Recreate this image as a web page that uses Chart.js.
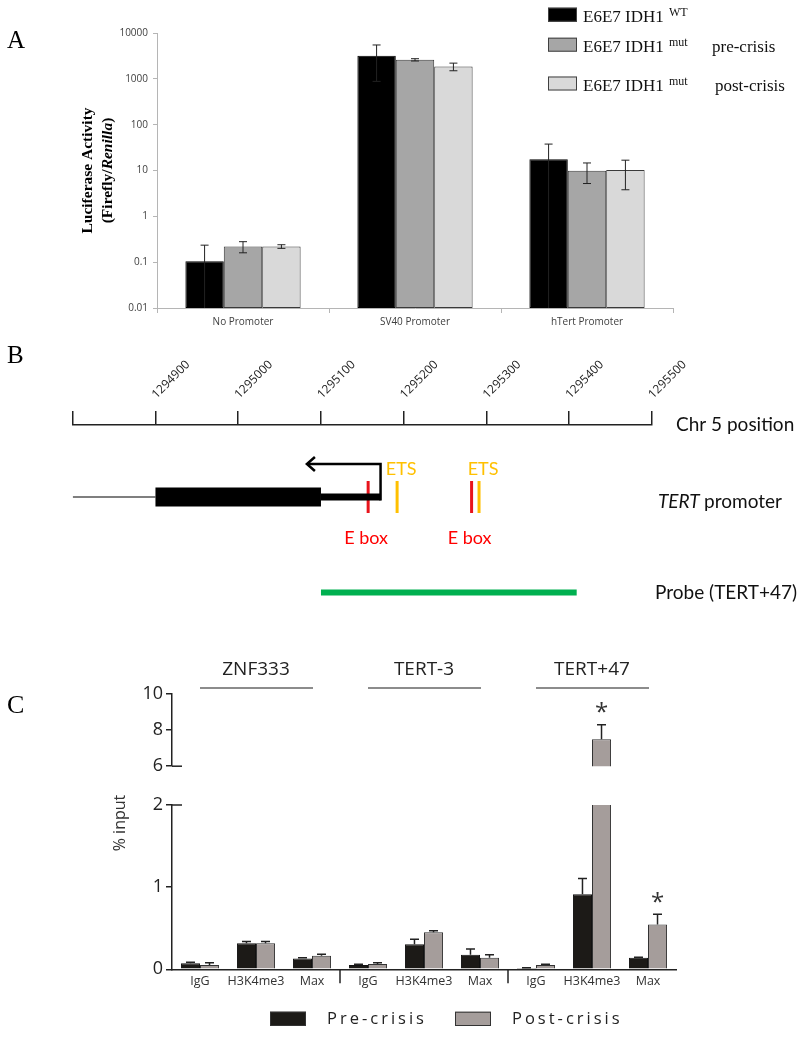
<!DOCTYPE html>
<html>
<head>
<meta charset="utf-8">
<script src="https://cdn.jsdelivr.net/npm/chart.js@4.4.1/dist/chart.umd.min.js"></script>
<style>
  body { margin: 0; background: #fff; width: 800px; height: 1038px; position: relative; overflow: hidden; }
  canvas { position: absolute; left: 0; }
</style>
</head>
<body>
<canvas id="graficoA" width="800" height="335" style="top:0"></canvas>
<canvas id="graficoB" width="800" height="290" style="top:335px"></canvas>
<canvas id="graficoC1" width="800" height="160" style="top:620px"></canvas>
<canvas id="graficoC2" width="800" height="258" style="top:780px"></canvas>
<script>
/* ==========================================================================
   DATOS
   ========================================================================== */
// Panel A: actividad luciferasa (escala log)
const promotores = ['No Promoter', 'SV40 Promoter', 'hTert Promoter'];
const lucWT = [0.105, 3180, 17.7];
const lucWTErr = [0.13, 2300, 20];
const lucPre = [0.22, 2600, 9.9];
const lucPreErr = [0.06, 150, 4.7];
const lucPost = [0.22, 1850, 10.3];
const lucPostErr = [0.02, 350, 6.5];
const ticksLog = [0.01, 0.1, 1, 10, 100, 1000, 10000];
const leyendaBase = 'E6E7 IDH1';
const leyendaSup = ['WT', 'mut', 'mut'];
const leyendaSufijo = ['', 'pre-crisis', 'post-crisis'];

// Panel B: promotor de TERT (posición en Chr 5)
const posiciones = [1294800, 1294900, 1295000, 1295100, 1295200, 1295300, 1295400, 1295500];
const regionFina = [1294800, 1294900];
const exonGrueso = [1294900, 1295100];
const exonEstrecho = [1295100, 1295172];
const flechaTss = [1295172, 1295083];
const eBox = [1295157, 1295282];
const ets = [1295192, 1295291];
const sonda = [1295100, 1295409];

// Panel C: ChIP (% input)
const dianas = ['ZNF333', 'TERT-3', 'TERT+47'];
const anticuerpos = ['IgG', 'H3K4me3', 'Max'];
const preCrisis = [0.073, 0.317, 0.13, 0.052, 0.305, 0.178, 0.016, 0.915, 0.142];
const preCrisisErr = [0.012, 0.02, 0.012, 0.008, 0.06, 0.07, 0.004, 0.19, 0.005];
const postCrisis = [0.052, 0.317, 0.166, 0.065, 0.45, 0.142, 0.052, 7.5, 0.544];
const postCrisisErr = [0.028, 0.02, 0.016, 0.016, 0.02, 0.036, 0.008, 0.8, 0.127];
const significativos = [7, 8];
const etiquetasC = dianas.flatMap(() => anticuerpos);

/* ==========================================================================
   PLUGINS COMUNES
   ========================================================================== */
const barrasError = {
    id: 'barrasError',
    afterDatasetsDraw(chart, args, opts) {
        const ctx = chart.ctx;
        const y = chart.scales.y;
        const area = chart.chartArea;
        ctx.save();
        ctx.beginPath();
        ctx.rect(area.left, area.top - 2, area.right - area.left, area.bottom - area.top + 4);
        ctx.clip();
        ctx.strokeStyle = opts.color;
        ctx.lineWidth = opts.width;
        chart.data.datasets.forEach((ds, i) => {
            const meta = chart.getDatasetMeta(i);
            ds.errores.forEach((e, j) => {
                const v = ds.data[j];
                if (v == null || v > y.max) return;
                const x = meta.data[j].x;
                const arriba = y.getPixelForValue(v + e);
                let abajo = y.getPixelForValue(v);
                let capAbajo = false;
                if (opts.ambos && v - e > 0) {
                    abajo = y.getPixelForValue(v - e);
                    capAbajo = true;
                } else if (opts.ambos) {
                    abajo = area.bottom;
                }
                ctx.beginPath();
                ctx.moveTo(x, abajo);
                ctx.lineTo(x, arriba);
                ctx.moveTo(x - opts.cap / 2, arriba);
                ctx.lineTo(x + opts.cap / 2, arriba);
                if (capAbajo) {
                    ctx.moveTo(x - opts.cap / 2, abajo);
                    ctx.lineTo(x + opts.cap / 2, abajo);
                }
                ctx.stroke();
            });
        });
        ctx.restore();
    }
};

/* ==========================================================================
   PANEL A
   ========================================================================== */
const textosA = {
    id: 'textosA',
    afterDraw(chart) {
        const ctx = chart.ctx;
        const area = chart.chartArea;
        ctx.save();
        ctx.fillStyle = '#000';
        ctx.font = '25px "Liberation Serif"';
        ctx.fillText('A', 7, 48);

        // título del eje Y en dos líneas
        ctx.save();
        ctx.translate(88, (area.top + area.bottom) / 2);
        ctx.rotate(-Math.PI / 2);
        ctx.textBaseline = 'middle';
        ctx.textAlign = 'center';
        ctx.font = 'bold 15.5px "Liberation Serif"';
        ctx.fillText('Luciferase Activity', 0, 0);
        ctx.textAlign = 'left';
        const p1 = '(Firefly/', p2 = 'Renilla', p3 = ')';
        ctx.font = 'bold 15.5px "Liberation Serif"';
        const w1 = ctx.measureText(p1).width, w3 = ctx.measureText(p3).width;
        ctx.font = 'italic bold 15.5px "Liberation Serif"';
        const w2 = ctx.measureText(p2).width;
        let x0 = -(w1 + w2 + w3) / 2;
        ctx.font = 'bold 15.5px "Liberation Serif"';
        ctx.fillText(p1, x0, 20);
        ctx.font = 'italic bold 15.5px "Liberation Serif"';
        ctx.fillText(p2, x0 + w1, 20);
        ctx.font = 'bold 15.5px "Liberation Serif"';
        ctx.fillText(p3, x0 + w1 + w2, 20);
        ctx.restore();

        // leyenda
        const bases = [21.7, 51.7, 90.5];
        chart.data.datasets.forEach((ds, i) => {
            const b = bases[i];
            ctx.fillStyle = ds.backgroundColor;
            ctx.fillRect(548, b - 14, 29, 14);
            ctx.strokeStyle = '#404040';
            ctx.lineWidth = 1;
            ctx.strokeRect(548.5, b - 13.5, 28, 13);
            ctx.fillStyle = '#111';
            ctx.font = '17px "Liberation Serif"';
            ctx.textAlign = 'left';
            ctx.textBaseline = 'alphabetic';
            ctx.fillText(leyendaBase, 583, b);
            ctx.font = '12px "Liberation Serif"';
            ctx.fillText(leyendaSup[i], 669, b - 6);
            ctx.font = '17px "Liberation Serif"';
            if (leyendaSufijo[i]) ctx.fillText(leyendaSufijo[i], i === 1 ? 712 : 715, b);
        });
        ctx.restore();
    }
};

new Chart(document.getElementById('graficoA'), {
    type: 'bar',
    data: {
        labels: promotores,
        datasets: [
            { label: 'WT', data: lucWT, errores: lucWTErr, backgroundColor: '#000000', borderColor: '#000000', borderWidth: 1 },
            { label: 'pre', data: lucPre, errores: lucPreErr, backgroundColor: '#a6a6a6', borderColor: '#3a3a3a', borderWidth: 1 },
            { label: 'post', data: lucPost, errores: lucPostErr, backgroundColor: '#d9d9d9', borderColor: '#3a3a3a', borderWidth: 1 }
        ]
    },
    options: {
        responsive: false,
        animation: false,
        layout: { padding: { left: 0, right: 127, top: 33, bottom: 0 } },
        datasets: { bar: { categoryPercentage: 0.67, barPercentage: 1, borderSkipped: false } },
        plugins: {
            legend: { display: false },
            tooltip: { enabled: false },
            barrasError: { ambos: true, cap: 8, color: '#222', width: 1 }
        },
        scales: {
            x: {
                grid: { offset: true, drawOnChartArea: false, tickLength: 5, color: '#b5b5b5' },
                border: { color: '#b5b5b5' },
                ticks: { font: { family: 'Open Sans', size: 10 }, color: '#404040', padding: 3 },
                afterFit(s) { s.height = 27; }
            },
            y: {
                type: 'logarithmic',
                min: 0.01,
                max: 10000,
                afterBuildTicks(s) { s.ticks = ticksLog.map(v => ({ value: v })); },
                ticks: { callback: v => String(v), font: { family: 'Open Sans', size: 10 }, color: '#404040', padding: 5 },
                grid: { drawOnChartArea: false, tickLength: 4, color: '#b5b5b5' },
                border: { color: '#b5b5b5' },
                afterFit(s) { s.width = 157; }
            }
        }
    },
    plugins: [barrasError, textosA]
});

/* ==========================================================================
   PANEL B
   ========================================================================== */
const filaFlecha = 19.5, filaGen = 36, marcaArriba = 28, marcaAbajo = 44;
const filaEts = 22, filaEbox = 56.5, filaSonda = 83.75;

function tramo(x0, x1, fila, color, ancho) {
    return {
        data: [{ x: x0, y: fila }, { x: x1, y: fila }],
        borderColor: color, borderWidth: ancho, borderCapStyle: 'butt',
        showLine: true, pointRadius: 0
    };
}
function marca(x, color) {
    return {
        data: [{ x, y: marcaArriba }, { x, y: marcaAbajo }],
        borderColor: color, borderWidth: 3, borderCapStyle: 'butt',
        showLine: true, pointRadius: 0
    };
}

const textosB = {
    id: 'textosB',
    afterDraw(chart) {
        const ctx = chart.ctx;
        const x = chart.scales.x, y = chart.scales.y;
        const area = chart.chartArea;
        ctx.save();
        ctx.fillStyle = '#000';
        ctx.font = '25px "Liberation Serif"';
        ctx.fillText('B', 7, 28);

        // etiquetas de posición, giradas 45°
        ctx.fillStyle = '#222';
        ctx.font = '12px "Open Sans"';
        ctx.textAlign = 'left';
        ctx.textBaseline = 'alphabetic';
        posiciones.slice(1).forEach(p => {
            ctx.save();
            ctx.translate(x.getPixelForValue(p) + 1, area.top - 26);
            ctx.rotate(-Math.PI / 4);
            ctx.fillText(String(p), 0, 0);
            ctx.restore();
        });

        // punta de flecha del TSS
        const px = x.getPixelForValue(flechaTss[1]);
        const py = y.getPixelForValue(filaFlecha);
        ctx.strokeStyle = '#000';
        ctx.lineWidth = 2.5;
        ctx.beginPath();
        ctx.moveTo(px + 8, py - 7);
        ctx.lineTo(px, py);
        ctx.lineTo(px + 8, py + 7);
        ctx.stroke();

        ctx.textAlign = 'center';
        ctx.textBaseline = 'middle';
        ctx.font = '18px Lato';
        ctx.fillStyle = '#ffc000';
        ets.forEach(p => ctx.fillText('ETS', x.getPixelForValue(p) + 4, y.getPixelForValue(filaEts)));
        ctx.fillStyle = '#ff0000';
        eBox.forEach(p => ctx.fillText('E box', x.getPixelForValue(p) - 2, y.getPixelForValue(filaEbox)));

        ctx.textAlign = 'left';
        ctx.fillStyle = '#111';
        ctx.font = '19px Lato';
        ctx.fillText('Chr 5 position', 676, y.getPixelForValue(0));
        ctx.font = 'italic 19px Lato';
        ctx.fillText('TERT', 658, y.getPixelForValue(filaGen) + 5);
        const wT = ctx.measureText('TERT ').width;
        ctx.font = '19px Lato';
        ctx.fillText('promoter', 658 + wT, y.getPixelForValue(filaGen) + 5);
        ctx.fillText('Probe (TERT+47)', 655, y.getPixelForValue(filaSonda));
        ctx.restore();
    }
};

new Chart(document.getElementById('graficoB'), {
    type: 'scatter',
    data: {
        datasets: [
            tramo(regionFina[0], regionFina[1], filaGen, '#000', 1.2),
            tramo(exonGrueso[0], exonGrueso[1], filaGen, '#000', 19),
            tramo(exonEstrecho[0], exonEstrecho[1], filaGen, '#000', 7),
            {
                data: [{ x: flechaTss[0], y: filaGen + 1.8 }, { x: flechaTss[0], y: filaFlecha }, { x: flechaTss[1], y: filaFlecha }],
                borderColor: '#000', borderWidth: 2.5, borderJoinStyle: 'miter', borderCapStyle: 'butt',
                showLine: true, pointRadius: 0
            },
            ...eBox.map(p => marca(p, '#e8141c')),
            ...ets.map(p => marca(p, '#ffc000')),
            tramo(sonda[0], sonda[1], filaSonda, '#00b050', 6)
        ]
    },
    options: {
        responsive: false,
        animation: false,
        layout: { padding: { left: 72.7, right: 148, top: 0, bottom: 0 } },
        plugins: { legend: { display: false }, tooltip: { enabled: false } },
        scales: {
            x: {
                type: 'linear',
                position: 'top',
                min: posiciones[0],
                max: posiciones[posiciones.length - 1],
                afterBuildTicks(s) { s.ticks = posiciones.map(v => ({ value: v })); },
                ticks: { display: false },
                grid: { drawOnChartArea: false, tickLength: 14, color: '#222', lineWidth: 1.5 },
                border: { color: '#222', width: 1.5 },
                afterFit(s) { s.height = 90; }
            },
            y: { display: false, min: 0, max: 100, reverse: true }
        }
    },
    plugins: [textosB]
});

/* ==========================================================================
   PANEL C (eje Y partido: dos gráficos alineados)
   ========================================================================== */
function datasetsC(filtro) {
    return [
        { label: 'Pre-crisis', data: preCrisis.map(filtro), errores: preCrisisErr, backgroundColor: '#1c1a17', borderColor: '#111', borderWidth: 1, clip: 0 },
        { label: 'Post-crisis', data: postCrisis.map(filtro), errores: postCrisisErr, backgroundColor: '#a59d9b', borderColor: '#333', borderWidth: 1, clip: 0 }
    ];
}

const estrellas = {
    id: 'estrellas',
    afterDatasetsDraw(chart) {
        const ctx = chart.ctx, y = chart.scales.y;
        const meta = chart.getDatasetMeta(1), ds = chart.data.datasets[1];
        ctx.save();
        ctx.fillStyle = '#333';
        ctx.font = '24px "Open Sans"';
        ctx.textAlign = 'center';
        ctx.textBaseline = 'alphabetic';
        significativos.forEach(j => {
            const v = ds.data[j];
            if (v == null || v > y.max) return;
            ctx.fillText('*', meta.data[j].x, y.getPixelForValue(v + ds.errores[j]) - 4.5);
        });
        ctx.restore();
    }
};

const marcaCorte = {
    id: 'marcaCorte',
    afterDraw(chart, args, opts) {
        const ctx = chart.ctx, y = chart.scales.y;
        const px = chart.chartArea.left, py = y.getPixelForValue(opts.valor);
        ctx.save();
        ctx.strokeStyle = '#222';
        ctx.lineWidth = 1.5;
        ctx.beginPath();
        ctx.moveTo(px, py);
        ctx.lineTo(px + 10, py);
        ctx.stroke();
        ctx.restore();
    }
};

const textosC1 = {
    id: 'textosC1',
    afterDraw(chart) {
        const ctx = chart.ctx, x = chart.scales.x;
        ctx.save();
        ctx.fillStyle = '#000';
        ctx.font = '26px "Liberation Serif"';
        ctx.fillText('C', 7, 92.7);
        ctx.fillStyle = '#222';
        ctx.strokeStyle = '#666';
        ctx.lineWidth = 1.5;
        ctx.font = '19px "Open Sans"';
        ctx.textAlign = 'center';
        ctx.textBaseline = 'middle';
        dianas.forEach((d, g) => {
            const a = x.getPixelForValue(g * anticuerpos.length);
            const b = x.getPixelForValue(g * anticuerpos.length + anticuerpos.length - 1);
            ctx.fillText(d, (a + b) / 2, 50);
            ctx.beginPath();
            ctx.moveTo(a, 68);
            ctx.lineTo(b + 1, 68);
            ctx.stroke();
        });
        ctx.restore();
    }
};

const textosC2 = {
    id: 'textosC2',
    afterDraw(chart) {
        const ctx = chart.ctx, x = chart.scales.x, area = chart.chartArea;
        ctx.save();
        // separadores entre dianas
        ctx.strokeStyle = '#222';
        ctx.lineWidth = 1.5;
        for (let g = 1; g < dianas.length; g++) {
            const k = g * anticuerpos.length;
            const sx = (x.getPixelForValue(k - 1) + x.getPixelForValue(k)) / 2;
            ctx.beginPath();
            ctx.moveTo(sx, area.bottom);
            ctx.lineTo(sx, area.bottom + 14);
            ctx.stroke();
        }
        // título eje Y
        ctx.save();
        ctx.translate(120, 43);
        ctx.rotate(-Math.PI / 2);
        ctx.fillStyle = '#333';
        ctx.font = '16px "Open Sans"';
        ctx.textAlign = 'center';
        ctx.textBaseline = 'middle';
        ctx.fillText('% input', 0, 0);
        ctx.restore();
        // leyenda
        const items = [
            { ds: chart.data.datasets[0], rx: 270, tx: 327 },
            { ds: chart.data.datasets[1], rx: 455, tx: 512 }
        ];
        ctx.font = '16.5px "Open Sans"';
        ctx.textBaseline = 'middle';
        ctx.textAlign = 'left';
        items.forEach(it => {
            ctx.fillStyle = it.ds.backgroundColor;
            ctx.fillRect(it.rx, 231.7, 36, 14.3);
            ctx.strokeStyle = '#333';
            ctx.lineWidth = 1;
            ctx.strokeRect(it.rx + 0.5, 232.2, 35, 13.3);
            ctx.fillStyle = '#222';
            ctx.letterSpacing = '3px';
            ctx.fillText(it.ds.label, it.tx, 239);
            ctx.letterSpacing = '0px';
        });
        ctx.restore();
    }
};

function opcionesC(minY, maxY, paso, padding, ejeX) {
    return {
        responsive: false,
        animation: false,
        layout: { padding },
        datasets: { bar: { categoryPercentage: 0.68, barPercentage: 1 } },
        plugins: {
            legend: { display: false },
            tooltip: { enabled: false },
            barrasError: { ambos: false, cap: 9, color: '#222', width: 1.5 },
            marcaCorte: { valor: maxY === 2 ? 2 : minY }
        },
        scales: {
            x: ejeX,
            y: {
                min: minY,
                max: maxY,
                ticks: { stepSize: paso, font: { family: 'Open Sans', size: 18 }, color: '#222', padding: 3 },
                grid: { drawOnChartArea: false, tickLength: 6, color: '#222', lineWidth: 1.5 },
                border: { color: '#222', width: 1.5 },
                afterFit(s) { s.width = 172; }
            }
        }
    };
}

// parte superior (6 - 10)
new Chart(document.getElementById('graficoC1'), {
    type: 'bar',
    data: { labels: etiquetasC, datasets: datasetsC(v => (v >= 6 ? v : null)) },
    options: (() => {
        const o = opcionesC(6, 10, 2, { left: 0, right: 124, top: 74, bottom: 6.7 }, { display: false });
        o.datasets.bar.borderSkipped = false;
        return o;
    })(),
    plugins: [barrasError, estrellas, marcaCorte, textosC1]
});

// parte inferior (0 - 2)
new Chart(document.getElementById('graficoC2'), {
    type: 'bar',
    data: { labels: etiquetasC, datasets: datasetsC(v => v) },
    options: opcionesC(0, 2, 1, { left: 0, right: 124, top: 25, bottom: 0 }, {
        grid: { display: false },
        border: { color: '#222', width: 1.5 },
        ticks: { font: { family: 'Open Sans', size: 12.5 }, color: '#333', padding: -3, minRotation: 0, maxRotation: 0, autoSkip: false },
        afterFit(s) { s.height = 68.7; }
    }),
    plugins: [barrasError, estrellas, marcaCorte, textosC2]
});
</script>
</body>
</html>
